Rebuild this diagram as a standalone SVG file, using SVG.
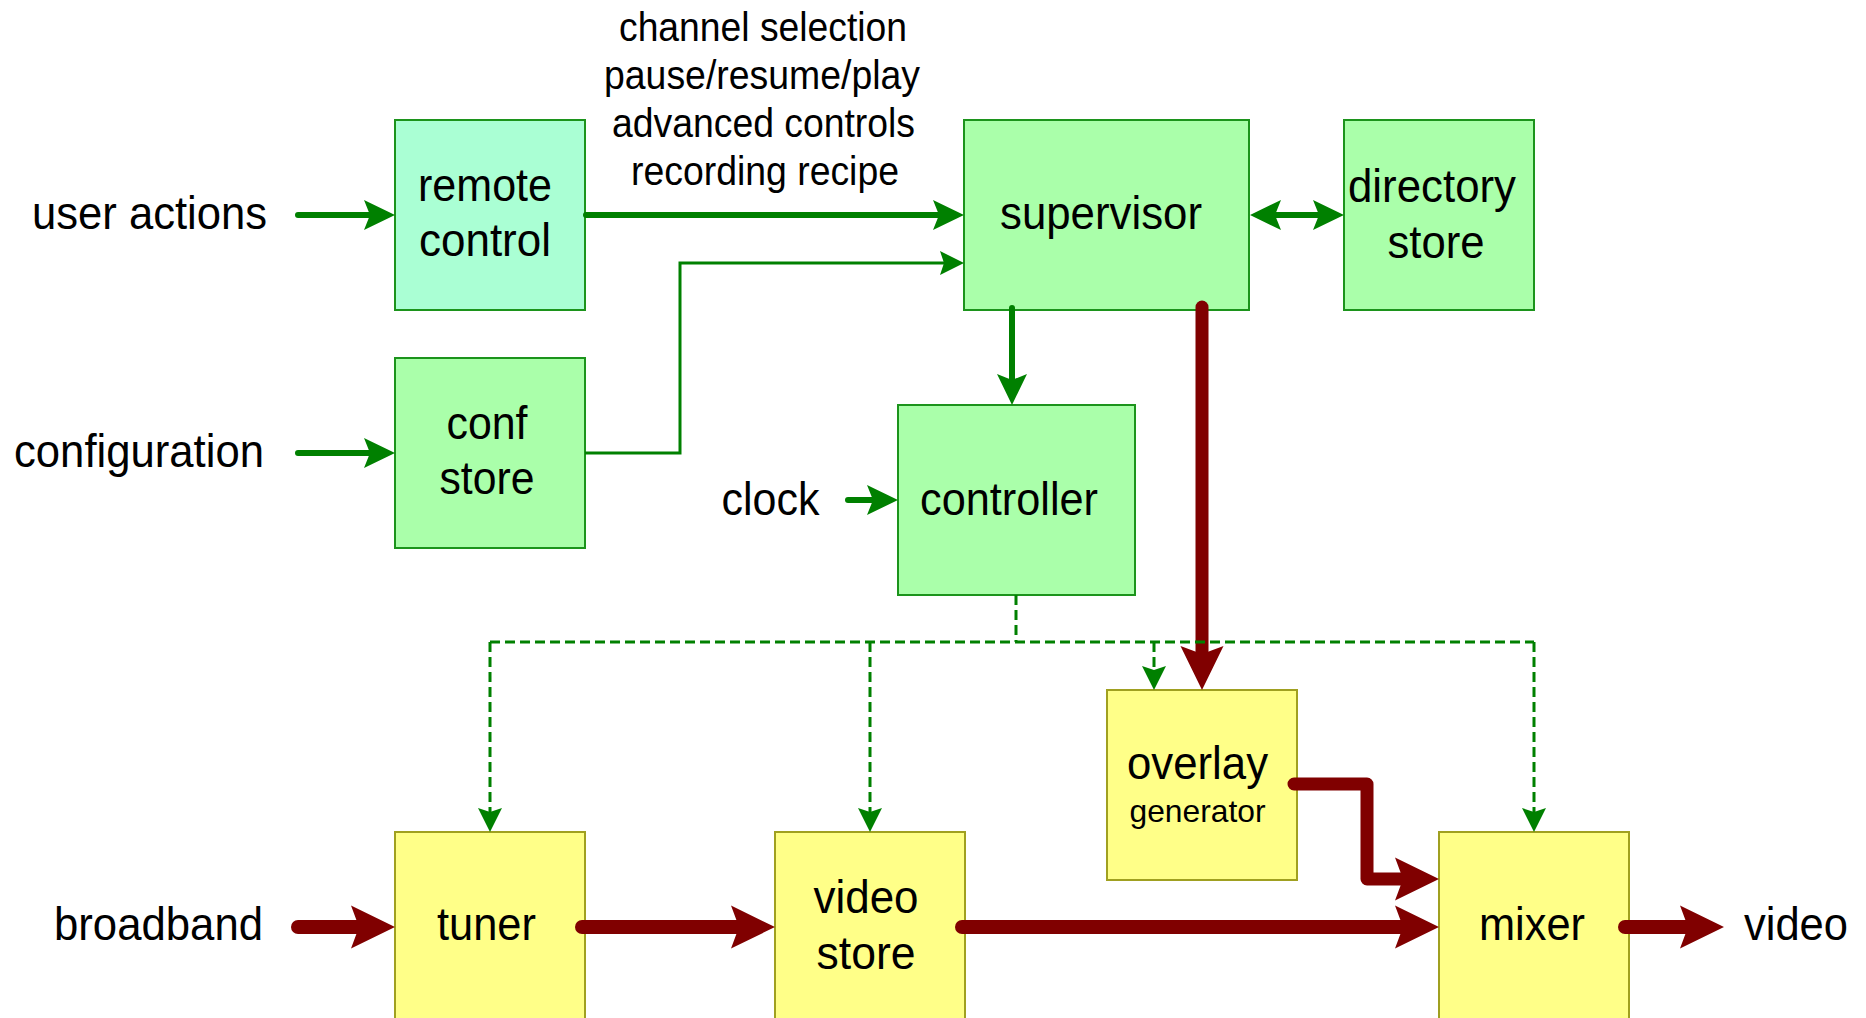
<svg xmlns="http://www.w3.org/2000/svg" width="1866" height="1018" viewBox="0 0 1866 1018">
<style>
  text { font-family: "Liberation Sans", Arial, sans-serif; fill: #000; text-anchor: middle; }
  .big { font-size: 47px; }
  .mid { font-size: 40px; }
  .small { font-size: 32px; }
  .gbox { fill: #aaffaa; stroke: #1c941c; stroke-width: 2; }
  .mbox { fill: #aaffd4; stroke: #1c941c; stroke-width: 2; }
  .ybox { fill: #ffff88; stroke: #a0a020; stroke-width: 2; }
  .g { fill: none; stroke: #008000; stroke-width: 6; stroke-linecap: round; }
  .gt { fill: none; stroke: #008000; stroke-width: 3; }
  .gd { fill: none; stroke: #008000; stroke-width: 3; stroke-dasharray: 10 5; }
  .r { fill: none; stroke: #800000; stroke-width: 14; stroke-linecap: round; stroke-linejoin: round; }
</style>
<defs>
  <marker id="ag" markerUnits="userSpaceOnUse" viewBox="0 -20 40 40" markerWidth="40" markerHeight="40" refX="16" refY="0" orient="auto-start-reverse" overflow="visible">
    <path d="M0,-15 L31,0 L0,15 L6,0 z" fill="#008000"/>
  </marker>
  <marker id="at" markerUnits="userSpaceOnUse" viewBox="0 -20 40 40" markerWidth="40" markerHeight="40" refX="14" refY="0" orient="auto" overflow="visible">
    <path d="M0,-12 L24,0 L0,12 L4,0 z" fill="#008000"/>
  </marker>
  <marker id="ar" markerUnits="userSpaceOnUse" viewBox="0 -30 60 60" markerWidth="60" markerHeight="60" refX="24" refY="0" orient="auto" overflow="visible">
    <path d="M0,-21.5 L44,0 L0,21.5 L8,0 z" fill="#800000"/>
  </marker>
</defs>
<rect width="1866" height="1018" fill="#ffffff"/>

<g id="labels">
  <text class="mid" x="763" y="41" textLength="288" lengthAdjust="spacingAndGlyphs">channel selection</text>
  <text class="mid" x="762" y="89" textLength="316" lengthAdjust="spacingAndGlyphs">pause/resume/play</text>
  <text class="mid" x="763.5" y="137" textLength="303" lengthAdjust="spacingAndGlyphs">advanced controls</text>
  <text class="mid" x="765" y="185" textLength="268" lengthAdjust="spacingAndGlyphs">recording recipe</text>
  <text class="big" x="149.5" y="229" textLength="235" lengthAdjust="spacingAndGlyphs">user actions</text>
  <text class="big" x="139" y="467" textLength="250" lengthAdjust="spacingAndGlyphs">configuration</text>
  <text class="big" x="770.5" y="515" textLength="98" lengthAdjust="spacingAndGlyphs">clock</text>
  <text class="big" x="158.5" y="940" textLength="209" lengthAdjust="spacingAndGlyphs">broadband</text>
  <text class="big" x="1796" y="940" textLength="104" lengthAdjust="spacingAndGlyphs">video</text>
</g>

<g id="remote-control">
  <rect class="mbox" x="395" y="120" width="190" height="190"/>
  <text class="big" x="485" y="201" textLength="134" lengthAdjust="spacingAndGlyphs">remote</text>
  <text class="big" x="485" y="256" textLength="132" lengthAdjust="spacingAndGlyphs">control</text>
</g>
<g id="conf-store">
  <rect class="gbox" x="395" y="358" width="190" height="190"/>
  <text class="big" x="487" y="439" textLength="81" lengthAdjust="spacingAndGlyphs">conf</text>
  <text class="big" x="487" y="494" textLength="95" lengthAdjust="spacingAndGlyphs">store</text>
</g>
<g id="supervisor">
  <rect class="gbox" x="964" y="120" width="285" height="190"/>
  <text class="big" x="1101" y="229" textLength="202" lengthAdjust="spacingAndGlyphs">supervisor</text>
</g>
<g id="directory-store">
  <rect class="gbox" x="1344" y="120" width="190" height="190"/>
  <text class="big" x="1432" y="202" textLength="168" lengthAdjust="spacingAndGlyphs">directory</text>
  <text class="big" x="1436" y="258" textLength="97" lengthAdjust="spacingAndGlyphs">store</text>
</g>
<g id="controller">
  <rect class="gbox" x="898" y="405" width="237" height="190"/>
  <text class="big" x="1009" y="515" textLength="178" lengthAdjust="spacingAndGlyphs">controller</text>
</g>
<g id="overlay-generator">
  <rect class="ybox" x="1107" y="690" width="190" height="190"/>
  <text class="big" x="1197.5" y="779" textLength="141" lengthAdjust="spacingAndGlyphs">overlay</text>
  <text class="small" x="1197.5" y="822" textLength="136" lengthAdjust="spacingAndGlyphs">generator</text>
</g>
<g id="tuner">
  <rect class="ybox" x="395" y="832" width="190" height="190"/>
  <text class="big" x="486.5" y="940" textLength="99" lengthAdjust="spacingAndGlyphs">tuner</text>
</g>
<g id="video-store">
  <rect class="ybox" x="775" y="832" width="190" height="190"/>
  <text class="big" x="866" y="913" textLength="105" lengthAdjust="spacingAndGlyphs">video</text>
  <text class="big" x="866" y="969" textLength="99" lengthAdjust="spacingAndGlyphs">store</text>
</g>
<g id="mixer">
  <rect class="ybox" x="1439" y="832" width="190" height="190"/>
  <text class="big" x="1532" y="940" textLength="106" lengthAdjust="spacingAndGlyphs">mixer</text>
</g>

<g id="connectors">
  <path class="g" d="M298,215 L380,215" marker-end="url(#ag)"/>
  <path class="g" d="M298,453 L380,453" marker-end="url(#ag)"/>
  <path class="g" d="M586,215 L949,215" marker-end="url(#ag)"/>
  <path class="g" d="M848,500 L883,500" marker-end="url(#ag)"/>
  <path class="g" d="M1012,308 L1012,390" marker-end="url(#ag)"/>
  <path class="g" d="M1265,215 L1329,215" marker-start="url(#ag)" marker-end="url(#ag)"/>
  <path class="gt" d="M585,453 L680,453 L680,263 L954,263" marker-end="url(#at)"/>
  <path class="r" style="stroke-width:13" d="M1202,307 L1202,670" marker-end="url(#ar)"/>
  <path class="r" d="M298,927 L375,927" marker-end="url(#ar)"/>
  <path class="r" d="M582,927 L755,927" marker-end="url(#ar)"/>
  <path class="r" d="M962,927 L1419,927" marker-end="url(#ar)"/>
  <path class="r" d="M1625,927 L1704,927" marker-end="url(#ar)"/>
  <path class="r" style="stroke-width:13" d="M1294,784 L1367,784 L1367,879 L1419,879" marker-end="url(#ar)"/>
  <path class="gd" d="M1016,595 L1016,642"/>
  <path class="gd" d="M490,642 L1534,642"/>
  <path class="gd" d="M490,642 L490,822" marker-end="url(#at)"/>
  <path class="gd" d="M870,642 L870,822" marker-end="url(#at)"/>
  <path class="gd" d="M1154,642 L1154,680" marker-end="url(#at)"/>
  <path class="gd" d="M1534,642 L1534,822" marker-end="url(#at)"/>
</g>
</svg>
